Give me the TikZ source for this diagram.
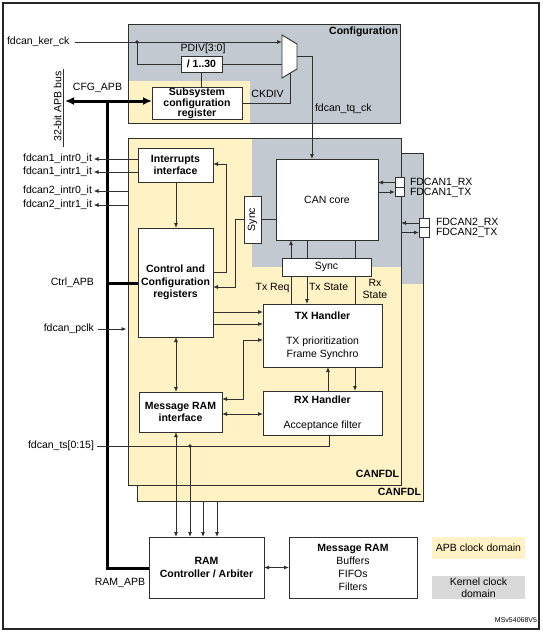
\documentclass[tikz,border=0pt]{standalone}
\usepackage{fontspec}
\setmainfont{Liberation Sans}
\usetikzlibrary{arrows.meta}
\definecolor{apbyel}{HTML}{FFF2C4}
\definecolor{kergray}{HTML}{C3C9D1}
\definecolor{leggray}{HTML}{D9D9D9}
\definecolor{ln}{HTML}{303030}
\begin{document}
\begin{tikzpicture}[x=1pt,y=-1pt,
  every node/.style={font=\fontsize{10.5}{12.8}\selectfont, inner sep=0pt, outer sep=0pt},
  lbl/.style={text height=7.5pt, text depth=2pt},
  box/.style={draw=ln, line width=0.9pt, fill=white, align=center},
  bbox/.style={box, font=\fontsize{10.5}{12.8}\selectfont\bfseries},
  boxl/.style={draw=ln, line width=0.9pt},
  wire/.style={draw=ln, line width=0.8pt},
  arr/.style={wire, -{Latex[length=5pt,width=4pt]}},
  darr/.style={wire, {Latex[length=5pt,width=4pt]}-{Latex[length=5pt,width=4pt]}},
  bus/.style={draw=black, line width=3pt},
  dotn/.style={circle, fill=ln, minimum size=3.6pt, inner sep=0pt},
  pin/.style={draw=ln, line width=0.8pt, fill=white, minimum width=9pt, minimum height=9.5pt},
]
\useasboundingbox (0,0) rectangle (543,633);
\draw[line width=1.1pt, draw=black!85] (3,3) rectangle (539,629);

% ---------- Configuration domain ----------
\fill[kergray] (128,24) rectangle (400,123);
\fill[apbyel] (128,81) rectangle (250,123);
\draw[boxl] (128,24) rectangle (400,123);
\node[anchor=east, lbl, font=\fontsize{10.5}{12.8}\selectfont\bfseries] (cfgt) at (398,32) {Configuration};

% ---------- back CANFDL ----------
\fill[apbyel] (137,153) rectangle (423,501);
\fill[kergray] (402,153) rectangle (423,284);
\draw[boxl] (137,153) rectangle (423,501);
\node[anchor=east, lbl, font=\fontsize{10.5}{12.8}\selectfont\bfseries] (canfdlb) at (421,493) {CANFDL};
\coordinate (bb) at (0,501);

% ---------- front CANFDL ----------
\fill[apbyel] (128,138) rectangle (401,485);
\fill[kergray] (252,138) rectangle (401,267);
\draw[boxl] (128,138) rectangle (401,485);
\node[anchor=east, lbl, font=\fontsize{10.5}{12.8}\selectfont\bfseries] (canfdlf) at (399,475) {CANFDL};
\coordinate (fl) at (128,0);
\coordinate (fr) at (401,0);

% ---------- boxes ----------
\node[bbox, minimum width=90pt, minimum height=31pt, font=\fontsize{10.5}{10.8}\selectfont\bfseries] (subsys) at (197,103.5) {Subsystem\\configuration\\register};
\node[bbox, minimum width=41pt, minimum height=16pt] (div) at (201.5,64) {/ 1..30};
\node[lbl] (pdiv) at (203,49) {PDIV[3:0]};
\draw[box] (282,35) -- (297,44) -- (297,69) -- (282,78) -- cycle;
\coordinate (muxin1) at (282,42);
\coordinate (muxin2) at (282,64);
\coordinate (muxout) at (297,56.5);
\coordinate (muxsel) at (290,73.2);

\node[box, minimum width=102pt, minimum height=81pt] (cancore) at (327,199.5) {CAN core};
\node[box, minimum width=17pt, minimum height=47pt] (sync1) at (252.5,219.5) {\rotatebox{90}{Sync}};
\node[box, minimum width=89pt, minimum height=18pt] (sync2) at (326.5,267) {Sync};
\node[bbox, minimum width=75pt, minimum height=34pt] (intr) at (175.5,165) {Interrupts\\interface};
\node[bbox, minimum width=75pt, minimum height=109pt] (ctrl) at (175.5,282.5) {Control and\\Configuration\\registers};
\node[box, minimum width=119pt, minimum height=63pt] (tx) at (322.5,335.5) {\textbf{TX Handler}\\[12pt]TX prioritization\\Frame Synchro};
\node[box, minimum width=119pt, minimum height=44pt] (rx) at (322.5,413) {\textbf{RX Handler}\\[12pt]Acceptance filter};
\node[bbox, minimum width=83pt, minimum height=40pt] (mri) at (180.5,412) {Message RAM\\interface};
\node[bbox, minimum width=115pt, minimum height=61pt] (ramc) at (206.5,567.5) {RAM\\Controller / Arbiter};
\node[box, minimum width=128pt, minimum height=61pt] (mram) at (353,567.5) {\textbf{Message RAM}\\Buffers\\FIFOs\\Filters};

% pins
\node[pin] (p1rx) at (399.5,182.5) {};
\node[pin] (p1tx) at (399.5,192) {};
\node[pin, minimum width=10pt] (p2rx) at (424,223) {};
\node[pin, minimum width=10pt] (p2tx) at (424,232.5) {};
\node[lbl, anchor=west] (l1rx) at (410,182.5) {FDCAN1\_RX};
\node[lbl, anchor=west] (l1tx) at (410,192.5) {FDCAN1\_TX};
\node[lbl, anchor=west] (l2rx) at (436,222.5) {FDCAN2\_RX};
\node[lbl, anchor=west] (l2tx) at (436,233) {FDCAN2\_TX};

% legend
\node[fill=apbyel, minimum width=93pt, minimum height=22pt] (legapb) at (478.5,548) {APB clock domain};
\node[fill=leggray, minimum width=93pt, minimum height=23pt, align=center, font=\fontsize{10.5}{12}\selectfont] (legker) at (478.5,587.5) {Kernel clock\\domain};
\node[anchor=east, lbl, font=\fontsize{7}{8}\selectfont] (ref) at (537,620) {MSv54068V5};

% ---------- clock / configuration wiring ----------
\node[lbl, anchor=west] (kerck) at (7,41.5) {fdcan\_ker\_ck};
\draw[arr] ([xshift=6pt]kerck.east |- muxin1) -- (muxin1);
\node[dotn] (d1) at (137,42) {};
\draw[wire] (d1.center) |- (div.west);
\draw[wire] (div.east) -- (muxin2);
\draw[wire] (div.south) -- (subsys.north -| div.south);
\draw[wire] (subsys.east) -| (muxsel);
\node[lbl] (ckdiv) at (267.5,95) {CKDIV};
\draw[arr] (muxout) -- (312,56.5) -- (cancore.north -| 312,0);
\node[lbl, anchor=west] (tqck) at (315,109) {fdcan\_tq\_ck};

% APB bus
\coordinate (apbl) at (63,101);
\draw[wire] (63,69) -- (63,147);
\node (apbtxt) at (57.5,106.5) {\rotatebox{90}{32-bit APB bus}};
\node[lbl] (cfgapb) at (97.5,87.5) {CFG\_APB};
\draw[bus, {Latex[length=9pt,width=8pt]}-{Latex[length=9pt,width=8pt]}] ([xshift=2pt]apbl) -- (subsys.west |- apbl);
\draw[bus] (107,101) -- (107,568) -- (ramc.west |- 0,568);
\node[lbl, anchor=east] (ctrlapb) at (94,282.5) {Ctrl\_APB};
\draw[bus] (107,283) -- (ctrl.west |- 0,283);
\node[lbl] (ramapb) at (120,583) {RAM\_APB};

% interrupts
\node[lbl, anchor=east] (i10) at (92,159) {fdcan1\_intr0\_it};
\node[lbl, anchor=east] (i11) at (92,172) {fdcan1\_intr1\_it};
\node[lbl, anchor=east] (i20) at (92,191) {fdcan2\_intr0\_it};
\node[lbl, anchor=east] (i21) at (92,205) {fdcan2\_intr1\_it};
\draw[arr] (intr.west |- i10) -- ([xshift=1.5pt]i10.east);
\draw[arr] (intr.west |- i11) -- ([xshift=1.5pt]i11.east);
\draw[arr] (fl |- i20) -- ([xshift=1.5pt]i20.east);
\draw[arr] (fl |- i21) -- ([xshift=1.5pt]i21.east);

% pclk
\node[lbl, anchor=east] (pclk) at (94,329) {fdcan\_pclk};
\draw[arr] ([xshift=4pt]pclk.east) -- ([xshift=-1.5pt]fl |- pclk);

% ---------- internal wiring ----------
\draw[arr] (intr.south -| 176,0) -- (ctrl.north -| 176,0);
\draw[arr] (ctrl.east |- 0,272) -- ++(13,0) |- (intr.east |- 0,164);
\draw[wire] (sync1.east) -- (cancore.west |- sync1.east);
\draw[arr] (sync1.west) -- ++(-8.5,0) |- (ctrl.east |- 0,287);
\draw[arr] (ctrl.east |- 0,312) -- (tx.west |- 0,312);
\draw[arr] (ctrl.east |- 0,324) -- (tx.west |- 0,324);
\draw[darr] (tx.west |- 0,340) -| (243,399) -- (mri.east |- 0,399);
\draw[darr] (ctrl.south -| 176,0) -- (mri.north -| 176,0);
\draw[darr] (mri.east |- 0,414) -- (rx.west |- 0,414);
\draw[arr] (rx.north -| 328,0) -- (tx.south -| 328,0);
\draw[arr] (tx.south -| 355,0) -- (rx.north -| 355,0);

% sync2 lines
\draw[wire] (tx.north -| 291,0) -- (sync2.south -| 291,0);
\draw[arr] (sync2.north -| 291,0) -- (cancore.south -| 291,0);
\draw[wire] (cancore.south -| 307,0) -- (sync2.north -| 307,0);
\draw[arr] (sync2.south -| 307,0) -- (tx.north -| 307,0);
\draw[wire] (cancore.south -| 355,0) -- (sync2.north -| 355,0);
\draw[wire] (sync2.south -| 355,0) -- (tx.north -| 355,0);
\node[lbl, anchor=east] (txreq) at (289.5,288) {Tx Req};
\node[lbl, anchor=west] (txst) at (309,288) {Tx State};
\node[align=center, font=\fontsize{10.5}{12}\selectfont] (rxst) at (375,288.5) {Rx\\State};

% pins wiring
\draw[arr] (p1rx.west) -- (cancore.east |- p1rx.west);
\draw[arr] (cancore.east |- p1tx.west) -- (p1tx.west);
\draw[arr] (p2rx.west) -- (fr |- p2rx.west);
\draw[arr] (fr |- p2tx.west) -- (p2tx.west);

% timestamp
\node[lbl, anchor=east] (ts) at (94,446) {fdcan\_ts[0:15]};
\draw[wire] ([xshift=3pt]ts.east) -| (rx.south -| 329,0);
\node[dotn] (d2) at (190,446) {};
\draw[arr] (d2.center) -- (ramc.north -| d2);
\draw[darr] (mri.south -| 176,0) -- (ramc.north -| 176,0);
\draw[arr] (bb -| 203,0) -- (ramc.north -| 203,0);
\draw[arr] (bb -| 217,0) -- (ramc.north -| 217,0);
\draw[darr] (ramc.east) -- (mram.west);
\end{tikzpicture}
\end{document}
